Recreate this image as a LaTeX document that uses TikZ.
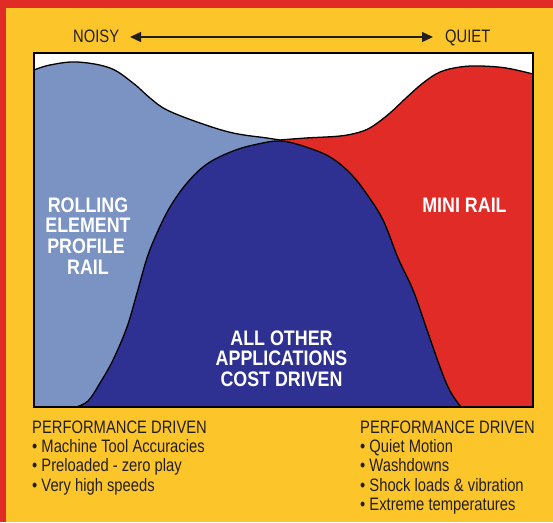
\documentclass[tikz,border=0pt]{standalone}
\usepackage{fontspec}
\setmainfont{Liberation Sans}
\newfontfamily\condfont{Liberation Sans}[FakeStretch=0.82]
\newfontfamily\condbold{Liberation Sans}[FakeStretch=0.85]
\usetikzlibrary{arrows.meta}
\definecolor{bgyellow}{HTML}{FCC62A}
\definecolor{edgered}{HTML}{E12B26}
\definecolor{railred}{HTML}{E12B26}
\definecolor{lightblue}{HTML}{7A93C3}
\definecolor{darkblue}{HTML}{2E3192}
\definecolor{inkdark}{HTML}{231F20}
\tikzset{
  regionlabel/.style={text=white, inner sep=0pt, anchor=base, font=\condbold\bfseries\fontsize{21}{21}\selectfont},
  notetext/.style={text=inkdark, inner sep=0pt, anchor=base west, font=\condfont\fontsize{18}{18}\selectfont},
  axislabel/.style={text=inkdark, inner sep=0pt, anchor=base west, font=\condfont\fontsize{18}{18}\selectfont},
  curveline/.style={draw=black, line width=1.3pt},
  axisarrow/.style={draw=inkdark, line width=1.3pt, {Triangle[length=11pt,width=10pt]}-{Triangle[length=11pt,width=10pt]}}
}
\begin{document}
\begin{tikzpicture}[x=1pt,y=-1pt]
\useasboundingbox (0,0) rectangle (553,522);
% background and border
\fill[bgyellow] (0,0) rectangle (553,522);
\fill[edgered] (0,0) rectangle (553,8);
\fill[edgered] (0,0) rectangle (6,522);
% chart area
\fill[white] (34,53) rectangle (533,407);
% light blue region
\fill[lightblue] plot[smooth, tension=0.6] coordinates {(34,70) (50,65) (77,62) (110,68) (133,83) (150,98) (167,110) (200,123) (233,133) (267,138) (280,140)} -- (280,407) -- (34,407) -- cycle;
% red region
\fill[railred] plot[smooth, tension=0.6] coordinates {(280,140) (306,138) (340,136) (360,132) (373,126) (390,113) (406,98) (423,83) (440,72) (460,67) (480,66) (506,68) (533,74)} -- (533,407) -- (280,407) -- cycle;
% top curves outline
\draw[curveline] plot[smooth, tension=0.6] coordinates {(34,70) (50,65) (77,62) (110,68) (133,83) (150,98) (167,110) (200,123) (233,133) (267,138) (280,140)};
\draw[curveline] plot[smooth, tension=0.6] coordinates {(280,140) (306,138) (340,136) (360,132) (373,126) (390,113) (406,98) (423,83) (440,72) (460,67) (480,66) (506,68) (533,74)};
% dark blue region
\fill[darkblue] plot[smooth, tension=0.6] coordinates {(76,407) (88,401) (100,383) (113,360) (127,327) (137,293) (147,258) (157,233) (170,207) (187,183) (207,164) (233,151) (258,144) (281,141) (306,147) (330,157) (350,173) (366,193) (383,220) (398,258) (413,290) (426,327) (440,367) (450,391) (461,407)} -- cycle;
\draw[curveline] plot[smooth, tension=0.6] coordinates {(76,407) (88,401) (100,383) (113,360) (127,327) (137,293) (147,258) (157,233) (170,207) (187,183) (207,164) (233,151) (258,144) (281,141) (306,147) (330,157) (350,173) (366,193) (383,220) (398,258) (413,290) (426,327) (440,367) (450,391) (461,407)};
% frame
\draw[black, line width=2pt] (34,53) rectangle (533,407);
% axis
\node[axislabel] (noisy) at (73,42) {NOISY};
\node[axislabel] (quiet) at (445,42) {QUIET};
\coordinate (arrowL) at (130,37);
\coordinate (arrowR) at (433,37);
\draw[axisarrow] (arrowL) -- (arrowR);
% region labels
\node[regionlabel] (rl1) at (88,212) {ROLLING};
\node[regionlabel] (rl2) at (88,232.5) {ELEMENT};
\node[regionlabel] (rl3) at (86,253) {PROFILE};
\node[regionlabel] (rl4) at (88,274) {RAIL};
\node[regionlabel] (mini) at (464.5,212) {MINI RAIL};
\node[regionlabel] (ao1) at (281.5,345) {ALL OTHER};
\node[regionlabel] (ao2) at (281.5,365.5) {APPLICATIONS};
\node[regionlabel] (ao3) at (281.5,386) {COST DRIVEN};
% notes left
\node[notetext] (lh) at (32,433) {PERFORMANCE DRIVEN};
\node[notetext] (l1) at (32,452.3) {• Machine Tool Accuracies};
\node[notetext] (l2) at (32,471.6) {• Preloaded - zero play};
\node[notetext] (l3) at (32,491) {• Very high speeds};
% notes right
\node[notetext] (rh) at (360,433) {PERFORMANCE DRIVEN};
\node[notetext] (r1) at (360,452.3) {• Quiet Motion};
\node[notetext] (r2) at (360,471.6) {• Washdowns};
\node[notetext] (r3) at (360,491) {• Shock loads \& vibration};
\node[notetext] (r4) at (360,510.3) {• Extreme temperatures};
\end{tikzpicture}
\end{document}
